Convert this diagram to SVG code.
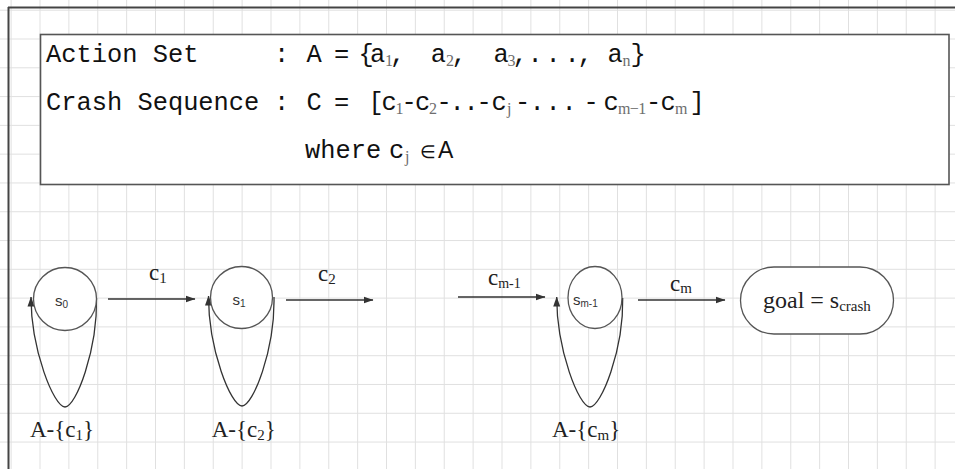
<svg xmlns="http://www.w3.org/2000/svg" width="955" height="469" viewBox="0 0 955 469">
<defs>
<pattern id="grid" x="39.5" y="38.5" width="28.875" height="28.79" patternUnits="userSpaceOnUse">
<path d="M0.5,0 V28.79 M0,0.5 H28.875" stroke="#e0e0e0" stroke-width="1" fill="none"/>
</pattern>
<marker id="ah" markerWidth="10" markerHeight="8" refX="9.5" refY="4" orient="auto" markerUnits="userSpaceOnUse">
<path d="M0,0.5 L10,4 L0,7.5 z" fill="#333"/>
</marker>
<style>
.mono{font-family:"Liberation Mono",monospace;font-size:25.4px;fill:#111;letter-spacing:-3px}
.w{letter-spacing:0}
.sb{font-family:"Liberation Serif",serif;font-size:16px;fill:#6e6e6e}
.sa{font-family:"Liberation Sans",sans-serif;fill:#111}
.st{fill:#fff;stroke:#555;stroke-width:1.3}
.edge{fill:none;stroke:#333;stroke-width:1.3}
.tm{font-family:"Liberation Serif",serif;fill:#222}
.sn{font-family:"Liberation Sans",sans-serif;fill:#333}
</style>
</defs>
<rect x="0" y="0" width="955" height="469" fill="#fff"/>
<rect x="0" y="0" width="955" height="469" fill="url(#grid)"/>
<path d="M8,7.5 H955 M8.5,7 V469" stroke="#444" stroke-width="2" fill="none"/>

<g id="definitions">
<rect x="40.5" y="34.5" width="908.5" height="150" fill="#fff" stroke="#555" stroke-width="1.6"/>
<text class="mono" y="62"><tspan class="w" x="46">Action Set</tspan><tspan x="274.1">:</tspan><tspan x="306.4">A</tspan><tspan x="333.9">=</tspan><tspan x="358.4">{</tspan><tspan x="369.9">a</tspan><tspan class="sb" x="385" y="66">1</tspan><tspan x="389.9" y="62">,</tspan><tspan x="430.7">a</tspan><tspan class="sb" x="446" y="66">2</tspan><tspan x="451.4" y="62">,</tspan><tspan x="493.4">a</tspan><tspan class="sb" x="507.5" y="66">3</tspan><tspan x="512.4" y="62">,</tspan><tspan x="527.4">.</tspan><tspan x="545.4">.</tspan><tspan x="564.4">.</tspan><tspan x="577.4">,</tspan><tspan x="607.4">a</tspan><tspan class="sb" x="622.5" y="66">n</tspan><tspan x="630.4" y="62">}</tspan></text>
<text class="mono" y="110"><tspan class="w" x="46">Crash Sequence</tspan><tspan x="274.1">:</tspan><tspan x="306.4">C</tspan><tspan x="333.9">=</tspan><tspan x="368.4">[</tspan><tspan x="381.4">c</tspan><tspan class="sb" x="395.5" y="114">1</tspan><tspan x="401.4" y="110">-</tspan><tspan x="414.9">c</tspan><tspan class="sb" x="429" y="114">2</tspan><tspan x="436.4" y="110">-</tspan><tspan x="449.4">.</tspan><tspan x="463.4">.</tspan><tspan x="476.4">-</tspan><tspan x="491.4">c</tspan><tspan class="sb" x="507" y="114">j</tspan><tspan x="514.9" y="110">-</tspan><tspan x="529.4">.</tspan><tspan x="545.4">.</tspan><tspan x="561.4">.</tspan><tspan x="583.4">-</tspan><tspan x="603.4">c</tspan><tspan class="sb" x="618" y="114" font-size="14" style="letter-spacing:-0.6px">m−1</tspan><tspan x="646" y="110">-</tspan><tspan x="660.4">c</tspan><tspan class="sb" x="675" y="114">m</tspan><tspan x="689.4" y="110">]</tspan></text>
<text class="mono" y="158"><tspan class="w" x="305">where</tspan><tspan x="389.1">c</tspan><tspan class="sb" x="405" y="162">j</tspan><tspan class="sa" x="420" y="158" font-size="18">∈</tspan><tspan class="sa" x="438" font-size="23">A</tspan></text>
</g>

<g id="connectors">
<path class="edge" d="M108,299 H195" marker-end="url(#ah)"/>
<path class="edge" d="M286,300 H373" marker-end="url(#ah)"/>
<path class="edge" d="M458,297 H545" marker-end="url(#ah)"/>
<path class="edge" d="M638,300 H725" marker-end="url(#ah)"/>
<path class="edge" d="M96.5,298 C97.5,350 76,407 65,407 C54,407 31,350 31,297" marker-end="url(#ah)"/>
<path class="edge" d="M274,297 C275,350 253,406 242,406 C231,406 208.5,350 208.5,296" marker-end="url(#ah)"/>
<path class="edge" d="M622.7,298 C623.7,350 601,407 590,407 C579,407 556.7,350 556.7,297" marker-end="url(#ah)"/>
<text class="tm" x="149" y="280" font-size="23">c<tspan font-size="15" dy="3">1</tspan></text>
<text class="tm" x="318" y="281" font-size="23">c<tspan font-size="15" dy="3">2</tspan></text>
<text class="tm" x="488" y="285" font-size="23">c<tspan font-size="14" dy="3">m-1</tspan></text>
<text class="tm" x="670" y="291" font-size="23">c<tspan font-size="15" dy="2">m</tspan></text>
<text class="tm" x="30" y="437" font-size="23">A-{c<tspan font-size="15" dy="3">1</tspan><tspan dy="-3">}</tspan></text>
<text class="tm" x="211.7" y="437" font-size="23">A-{c<tspan font-size="15" dy="3">2</tspan><tspan dy="-3">}</tspan></text>
<text class="tm" x="552" y="437" font-size="23">A-{c<tspan font-size="15" dy="3">m</tspan><tspan dy="-3">}</tspan></text>
</g>

<g id="s0">
<circle class="st" cx="65" cy="299" r="31.5"/>
<text class="sn" x="55" y="306" font-size="15">s<tspan font-size="10" dy="2">0</tspan></text>
</g>
<g id="s1">
<circle class="st" cx="241.5" cy="297.5" r="31"/>
<text class="sn" x="232.5" y="305" font-size="15">s<tspan font-size="10" dy="2">1</tspan></text>
</g>
<g id="sm1">
<ellipse class="st" cx="595" cy="297.5" rx="27" ry="31"/>
<text class="sn" x="573" y="305" font-size="15">s<tspan font-size="10" dy="2">m-1</tspan></text>
</g>
<g id="goal">
<rect class="st" x="740.5" y="267" width="153" height="67" rx="33.5" ry="33.5"/>
<text class="tm" x="763" y="308" font-size="24">goal = s<tspan font-size="15" dy="3">crash</tspan></text>
</g>
</svg>
